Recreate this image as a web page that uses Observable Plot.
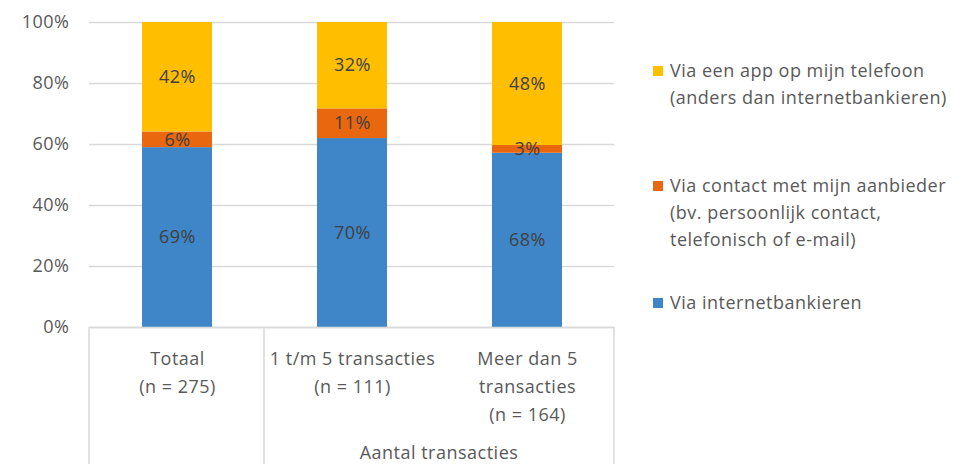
<!DOCTYPE html>
<html>
<head>
<meta charset="utf-8">
<script src="https://cdn.jsdelivr.net/npm/d3@7"></script>
<script src="https://cdn.jsdelivr.net/npm/@observablehq/plot@0.6"></script>
<style>
  html, body { margin: 0; padding: 0; background: #fff; }
  #wrap { position: relative; width: 958px; height: 464px; font-family: "Open Sans", Lato, sans-serif; color: #595959; }
  #chart { position: absolute; left: 0; top: 0; }
  #legend { position: absolute; left: 653px; top: 0; font-size: 18px; line-height: 27px; letter-spacing: 0.5px; color: #595959; }
  .item { position: absolute; left: 0; white-space: nowrap; }
  .sw { position: absolute; left: 0; top: 9px; width: 10px; height: 10px; }
  .lt { position: absolute; left: 17px; top: 0; }
</style>
</head>
<body>
<div id="wrap"><div id="chart"></div><div id="legend"></div></div>
<script>
const categories = ["Totaal", "1 t/m 5 transacties", "Meer dan 5 transacties"];
const categoryLabels = ["Totaal\n(n = 275)", "1 t/m 5 transacties\n(n = 111)", "Meer dan 5\ntransacties\n(n = 164)"];
const groupLabel = "Aantal transacties";
const groupMembers = [1, 2]; // categories under the group label
const series = ["Via internetbankieren", "Via contact met mijn aanbieder", "Via een app op mijn telefoon"];
const legendLabels = [
  ["Via een app op mijn telefoon", "(anders dan internetbankieren)"],
  ["Via contact met mijn aanbieder", "(bv. persoonlijk contact,", "telefonisch of e-mail)"],
  ["Via internetbankieren"]
];
const internet = [69, 70, 68];
const contact = [6, 11, 3];
const app = [42, 32, 48];
const yTicks = [0, 0.2, 0.4, 0.6, 0.8, 1.0];
const colors = ["#3E86C8", "#E8670F", "#FFBE00"];

const values = [internet, contact, app];
const data = [];
categories.forEach((c, i) => series.forEach((s, j) => data.push({cat: c, series: s, value: values[j][i]})));

const font = "'Open Sans', Lato, sans-serif";
const fs = 18;

const tableMark = (index, scales, vals, dims) => {
  const {width, height, marginLeft, marginRight, marginBottom} = dims;
  const step = (width - marginLeft - marginRight) / categories.length;
  const g = d3.create("svg:g");
  const top = height - marginBottom;
  [0, groupMembers[0], categories.length].forEach(k => {
    g.append("line").attr("x1", marginLeft + k * step).attr("x2", marginLeft + k * step)
      .attr("y1", top).attr("y2", height).attr("stroke", "#d9d9d9").attr("stroke-width", 1.5);
  });
  const gx = marginLeft + (groupMembers[0] + groupMembers[1] + 1) / 2 * step;
  g.append("text").attr("x", gx).attr("y", height - 5).attr("text-anchor", "middle")
    .attr("font-size", fs).attr("font-family", font).attr("fill", "#595959").text(groupLabel);
  return g.node();
};

const chart = Plot.plot({
  width: 620,
  height: 464,
  marginLeft: 89,
  marginRight: 6,
  marginTop: 22,
  marginBottom: 137,
  style: {fontFamily: font, color: "#595959", background: "transparent", letterSpacing: "0.5px"},
  x: {domain: categories, paddingInner: 0.6, paddingOuter: 0.3, axis: null},
  y: {domain: [0, 1], axis: null},
  color: {domain: series, range: colors},
  marks: [
    Plot.gridY(yTicks, {stroke: "#d9d9d9", strokeOpacity: 1, strokeWidth: 1.5}),
    Plot.axisY(yTicks, {tickFormat: d => Math.round(d * 100) + "%", tickSize: 0, tickPadding: 20, fontSize: fs, fill: "#595959", label: null}),
    Plot.barY(data, Plot.stackY({x: "cat", y: "value", fill: "series", offset: "normalize", order: series})),
    Plot.text(data, Plot.stackY({x: "cat", y: "value", z: "series", offset: "normalize", order: series, text: d => d.value + "%", fill: "#404040", fontSize: fs})),
    Plot.ruleY([0], {stroke: "#d9d9d9", strokeWidth: 1.5}),
    Plot.text(categories, {x: d => d, text: (d, i) => categoryLabels[i], frameAnchor: "bottom", lineAnchor: "top", dy: 18, lineHeight: 1.55, fontSize: fs, fill: "#595959"}),
    tableMark
  ]
});
document.getElementById("chart").appendChild(chart);

// legend
const legend = document.getElementById("legend");
const legendOrder = [2, 1, 0];
const legendTops = [57, 172, 289];
legendOrder.forEach((si, k) => {
  const item = document.createElement("div");
  item.className = "item";
  item.style.top = legendTops[k] + "px";
  const sw = document.createElement("div");
  sw.className = "sw";
  sw.style.background = colors[si];
  const t = document.createElement("div");
  t.className = "lt";
  t.innerHTML = legendLabels[k].join("<br>");
  item.appendChild(sw);
  item.appendChild(t);
  legend.appendChild(item);
});
</script>
</body>
</html>
